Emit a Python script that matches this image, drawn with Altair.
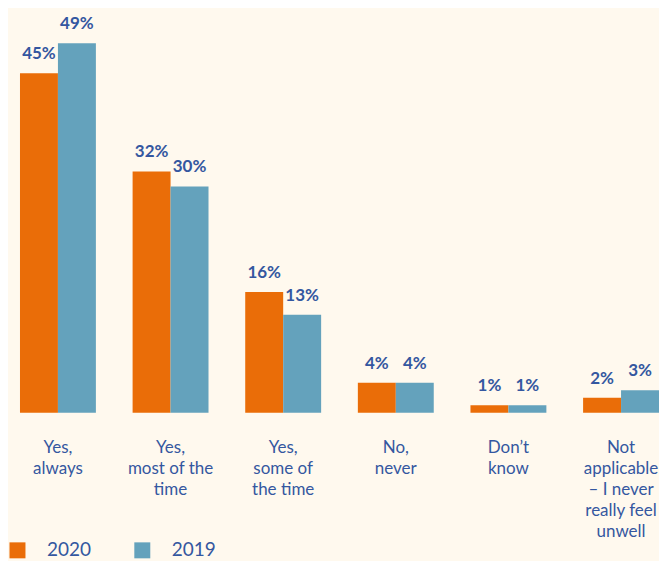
import altair as alt
import pandas as pd

categories = [
    "Yes,|always",
    "Yes,|most of the|time",
    "Yes,|some of|the time",
    "No,|never",
    "Don’t|know",
    "Not|applicable|– I never|really feel|unwell",
]
years = ["2020", "2019"]
values_2020 = [45, 32, 16, 4, 1, 2]
values_2019 = [49, 30, 13, 4, 1, 3]

rows = []
for c, v20, v19 in zip(categories, values_2020, values_2019):
    rows.append({"category": c, "year": "2020", "value": v20, "label": f"{v20}%"})
    rows.append({"category": c, "year": "2019", "value": v19, "label": f"{v19}%"})
df = pd.DataFrame(rows)

ORANGE = "#EA6D08"
BLUE = "#64A2BC"
TEXT = "#3457A0"
BG = "#FFF9EE"
FONT = "Lato"

x = alt.X(
    "category:N",
    sort=categories,
    scale=alt.Scale(paddingInner=0.326, paddingOuter=0),
    axis=alt.Axis(
        title=None,
        labelAngle=0,
        labelExpr="split(datum.label, '|')",
        labelFont=FONT,
        labelFontSize=17,
        labelColor=TEXT,
        labelLineHeight=21,
        labelBaseline="top",
        labelPadding=27,
        labelAlign="center",
        domain=False,
        ticks=False,
        grid=False,
    ),
)
xo = alt.XOffset("year:N", sort=years, scale=alt.Scale(paddingInner=0, paddingOuter=0))
y = alt.Y("value:Q", scale=alt.Scale(domain=[0, 53.6], nice=False), axis=None)

bars = alt.Chart(df).mark_bar().encode(
    x=x,
    xOffset=xo,
    y=y,
    color=alt.Color(
        "year:N",
        sort=years,
        scale=alt.Scale(domain=years, range=[ORANGE, BLUE]),
        legend=alt.Legend(
            title=None,
            orient="none",
            direction="horizontal",
            legendX=-12,
            legendY=533,
            symbolType="square",
            symbolSize=256,
            symbolStrokeWidth=0,
            symbolOpacity=1,
            labelFont=FONT,
            labelFontSize=19,
            labelColor=TEXT,
            labelOffset=20,
            columnPadding=41,
        ),
    ),
)

texts = alt.Chart(df).mark_text(
    baseline="alphabetic", align="center", dy=-14, font=FONT, fontSize=17,
    fontWeight="bold", color=TEXT
).encode(x=x, xOffset=xo, y=y, text="label:N")

chart = (
    alt.layer(bars, texts)
    .properties(width=640, height=405, padding={"left": 0, "top": 0, "right": 0, "bottom": 0})
    .configure(background=BG)
    .configure_view(stroke=None)
)

chart.save("out.html", embed_options={"renderer": "svg", "actions": False})
